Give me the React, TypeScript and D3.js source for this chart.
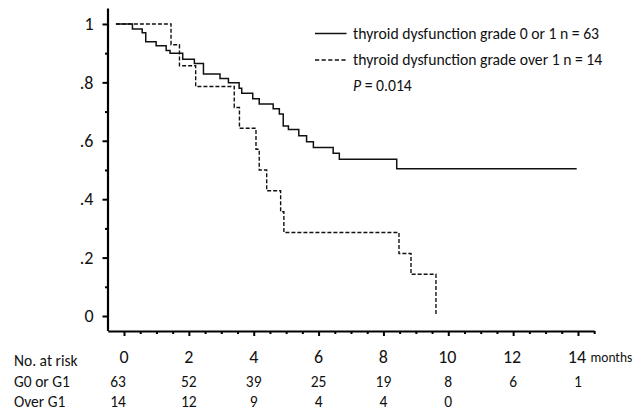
import React, { useEffect, useRef } from "react";
import * as d3 from "d3";

// ---- data (months, survival proportion) ----
const solidTimes = [-0.25, 0.26, 0.56, 0.67, 0.99, 1.3, 1.42, 1.81, 2.17, 2.45, 2.96, 3.22, 3.55, 3.63, 3.97, 4.17, 4.6, 4.79, 4.91, 5.07, 5.39, 5.63, 5.84, 6.45, 6.64, 8.41, 13.96];
const solidSurv = [1, 0.983, 0.97, 0.939, 0.925, 0.909, 0.9, 0.879, 0.865, 0.829, 0.813, 0.799, 0.78, 0.763, 0.744, 0.726, 0.71, 0.692, 0.651, 0.639, 0.617, 0.597, 0.577, 0.557, 0.537, 0.504, 0.504];
const dashedTimes = [-0.25, 1.45, 1.71, 2.21, 3.4, 3.56, 4.07, 4.17, 4.4, 4.83, 4.93, 8.48, 8.85, 9.62];
const dashedSurv = [1, 0.929, 0.857, 0.786, 0.714, 0.643, 0.571, 0.5, 0.429, 0.357, 0.286, 0.214, 0.143, 0];

const xTickValues = [0, 2, 4, 6, 8, 10, 12, 14];
const xMinorValues = [0.5, 1, 1.5, 2.5, 3, 3.5, 4.5, 5, 5.5, 6.5, 7, 7.5, 8.5, 9, 9.5, 10.5, 11, 11.5, 12.5, 13, 13.5, 14.5];
const yTickValues = [0, 0.2, 0.4, 0.6, 0.8, 1];
const yTickLabels = ["0", ".2", ".4", ".6", ".8", "1"];
const yMinorValues = [0.1, 0.3, 0.5, 0.7, 0.9];
const xUnit = "months";

const riskTitle = "No. at risk";
const groupNames = ["G0 or G1", "Over G1"];
const riskG0 = [63, 52, 39, 25, 19, 8, 6, 1];
const riskOver = [14, 12, 9, 4, 4, 0];
const legendLabels = [
  "thyroid dysfunction grade 0 or 1 n = 63",
  "thyroid dysfunction grade over 1 n = 14",
];
const pLabel = "P";
const pValue = " = 0.014";

const FONT = "Carlito, Calibri, Lato, 'Open Sans', sans-serif";

export default function App() {
  const ref = useRef<SVGSVGElement | null>(null);

  useEffect(() => {
    const svg = d3.select(ref.current);
    svg.selectAll("*").remove();

    const x = d3.scaleLinear().domain([-0.5, 14.5]).range([107.8, 594.2]);
    const y = d3.scaleLinear().domain([-0.05, 1.055]).range([330.6, 7.9]);

    // axes
    const xAxisG = svg.append("g").attr("transform", "translate(0,331)");
    xAxisG
      .call(d3.axisBottom(x).tickValues(xTickValues).tickSize(5).tickSizeOuter(0).tickFormat(() => ""))
      .call((g) => g.select(".domain").attr("stroke-width", 2.2))
      .call((g) => g.selectAll(".tick line").attr("stroke-width", 2));
    svg
      .append("g")
      .attr("transform", "translate(0,331)")
      .call(d3.axisBottom(x).tickValues(xMinorValues).tickSize(3).tickSizeOuter(0).tickFormat(() => ""))
      .call((g) => g.select(".domain").remove())
      .call((g) => g.selectAll(".tick line").attr("stroke-width", 2));

    const yAxisG = svg.append("g").attr("transform", "translate(107.5,0)");
    yAxisG
      .call(
        d3
          .axisLeft(y)
          .tickValues(yTickValues)
          .tickSize(5)
          .tickSizeOuter(0)
          .tickPadding(9)
          .tickFormat((d, i) => yTickLabels[i])
      )
      .call((g) => g.select(".domain").attr("stroke-width", 2.2))
      .call((g) => g.selectAll(".tick line").attr("stroke-width", 2))
      .call((g) =>
        g.selectAll(".tick text").attr("font-family", FONT).attr("font-size", 18).attr("fill", "#111")
      );
    svg
      .append("g")
      .attr("transform", "translate(107.5,0)")
      .call(d3.axisLeft(y).tickValues(yMinorValues).tickSize(2.5).tickSizeOuter(0).tickFormat(() => ""))
      .call((g) => g.select(".domain").remove())
      .call((g) => g.selectAll(".tick line").attr("stroke-width", 2));

    // curves
    const line = d3
      .line<[number, number]>()
      .x((d) => x(d[0]))
      .y((d) => y(d[1]))
      .curve(d3.curveStepAfter);

    const solidPts = solidTimes.map((t, i) => [t, solidSurv[i]] as [number, number]);
    const dashedPts = dashedTimes.map((t, i) => [t, dashedSurv[i]] as [number, number]);

    svg
      .append("path")
      .attr("d", line(solidPts))
      .attr("fill", "none")
      .attr("stroke", "#111")
      .attr("stroke-width", 1.5);
    svg
      .append("path")
      .attr("d", line(dashedPts))
      .attr("fill", "none")
      .attr("stroke", "#111")
      .attr("stroke-width", 1.4)
      .attr("stroke-dasharray", "4,2");

    // legend
    const lg = svg.append("g").attr("font-family", FONT).attr("font-size", 15.7).attr("fill", "#111");
    const legY = [33.5, 60];
    const dashes = ["none", "4.2,2.4"];
    legendLabels.forEach((lab, i) => {
      lg.append("line")
        .attr("x1", 315)
        .attr("x2", 346.5)
        .attr("y1", legY[i])
        .attr("y2", legY[i])
        .attr("stroke", "#111")
        .attr("stroke-width", 1.5)
        .attr("stroke-dasharray", dashes[i]);
      lg.append("text").attr("x", 353).attr("y", legY[i] + 5).text(lab);
    });
    const pt = lg.append("text").attr("x", 353).attr("y", 91);
    pt.append("tspan").attr("font-style", "italic").text(pLabel);
    pt.append("tspan").text(pValue);

    // x tick labels (first row of table)
    const tg = svg.append("g").attr("font-family", FONT).attr("fill", "#111");
    tg.selectAll("text.xt")
      .data(xTickValues)
      .join("text")
      .attr("class", "xt")
      .attr("x", (d) => x(d) - (d >= 10 ? 1 : 0))
      .attr("y", 362.5)
      .attr("text-anchor", "middle")
      .attr("font-size", 18)
      .text((d) => String(d));
    tg.append("text")
      .attr("x", 590.5)
      .attr("y", 362)
      .attr("font-size", 13.5)
      .text(xUnit);

    // risk table
    tg.append("text").attr("x", 14).attr("y", 366).attr("font-size", 15.5).text(riskTitle);
    const rowY = [387, 407];
    groupNames.forEach((g, i) => {
      tg.append("text").attr("x", 14).attr("y", rowY[i]).attr("font-size", 15.5).text(g);
    });
    const rows = [riskG0, riskOver];
    rows.forEach((vals, r) => {
      tg.selectAll("text.r" + r)
        .data(vals)
        .join("text")
        .attr("class", "r" + r)
        .attr("x", (d, i) => x(xTickValues[i]) - (i === 0 ? 6 : 0))
        .attr("y", rowY[r])
        .attr("text-anchor", "middle")
        .attr("font-size", 15.5)
        .text((d) => String(d));
    });
  }, []);

  return (
    <svg
      ref={ref}
      width={644}
      height={411}
      style={{ position: "absolute", left: 0, top: 0, background: "#fff" }}
    />
  );
}
